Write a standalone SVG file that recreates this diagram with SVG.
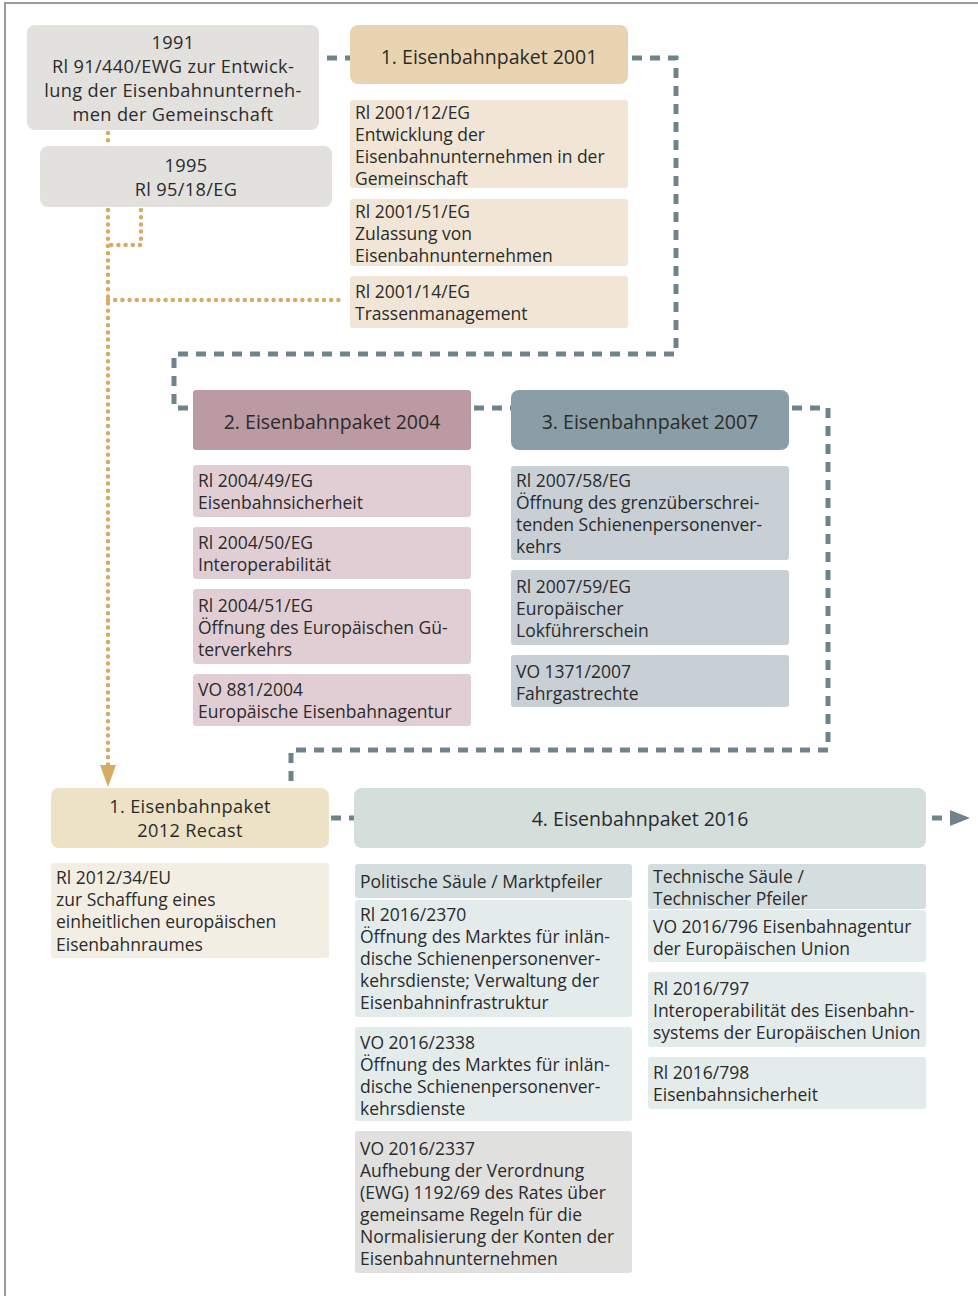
<svg xmlns="http://www.w3.org/2000/svg" width="978" height="1296" viewBox="0 0 978 1296">
<defs>
<style>
  text { font-family: "Open Sans", "Noto Sans", "DejaVu Sans", sans-serif; fill: #2b2b2b; dominant-baseline: central; }
  .t { font-size: 17.5px; }
  .h { font-size: 19.5px; text-anchor: middle; }
  .hm { font-size: 18.2px; letter-spacing: 0.35px; text-anchor: middle; }
  .dash { fill: none; stroke: #6f838b; stroke-width: 5; stroke-dasharray: 10 8; }
  .dot { fill: none; stroke: #d6ab66; stroke-width: 4.5; stroke-dasharray: 0 7.2; stroke-linecap: round; }
  .grey { fill: #e2e1de; }
  .p1h { fill: #e9d4b2; }
  .p1 { fill: #f1e6d5; }
  .p2h { fill: #bb9aa3; }
  .p2 { fill: #e1ced4; }
  .p3h { fill: #8a9ea7; }
  .p3 { fill: #c8cfd5; }
  .rch { fill: #ede2c6; }
  .rc { fill: #f3eee4; }
  .p4h { fill: #d4dedb; }
  .p4s { fill: #d5dedf; }
  .p4 { fill: #e4ebeb; }
  .p4g { fill: #e0e0df; }
</style>
</defs>

<!-- frame -->
<path d="M5,1296 V3 H978" fill="none" stroke="#9a9a9a" stroke-width="2"/>

<!-- connectors -->
<g id="connectors">
  <path class="dash" d="M327,58 H350"/>
  <path class="dash" d="M632,58 H676 V354 H174 V408 H193"/>
  <path class="dash" d="M474,408 H511"/>
  <path class="dash" d="M792,408 H828 V750 H291 V788"/>
  <path class="dash" d="M331,818 H354"/>
  <path class="dash" d="M932,818 H948"/>
  <polygon points="950,810 970,818 950,826" fill="#6f838b"/>
  <path class="dot" d="M108,133 V146"/>
  <path class="dot" d="M108,210 V766"/>
  <path class="dot" d="M141,210 V245 H108"/>
  <path class="dot" d="M108,300 H345"/>
  <polygon points="100,765 116,765 108,787" fill="#d6ab66"/>
</g>

<!-- 1991 -->
<g id="n1991">
  <rect class="grey" x="27" y="25" width="292" height="105" rx="8"/>
  <text class="hm" x="173" y="42">1991</text>
  <text class="hm" x="173" y="66">Rl 91/440/EWG zur Entwick-</text>
  <text class="hm" x="173" y="90">lung der Eisenbahnunterneh-</text>
  <text class="hm" x="173" y="114">men der Gemeinschaft</text>
</g>

<!-- 1995 -->
<g id="n1995">
  <rect class="grey" x="40" y="146" width="292" height="61" rx="8"/>
  <text class="hm" x="186" y="165">1995</text>
  <text class="hm" x="186" y="189">Rl 95/18/EG</text>
</g>

<!-- 1. Eisenbahnpaket 2001 -->
<g id="paket2001">
  <rect class="p1h" x="350" y="25" width="278" height="59" rx="8"/>
  <text class="h" x="489" y="56">1. Eisenbahnpaket 2001</text>
</g>
<g id="rl2001-12">
  <rect class="p1" x="350" y="100" width="278" height="88" rx="3"/>
  <text class="t" x="355" y="112">Rl 2001/12/EG</text>
  <text class="t" x="355" y="134">Entwicklung der</text>
  <text class="t" x="355" y="156">Eisenbahnunternehmen in der</text>
  <text class="t" x="355" y="178">Gemeinschaft</text>
</g>
<g id="rl2001-51">
  <rect class="p1" x="350" y="199" width="278" height="67" rx="3"/>
  <text class="t" x="355" y="211">Rl 2001/51/EG</text>
  <text class="t" x="355" y="233">Zulassung von</text>
  <text class="t" x="355" y="255">Eisenbahnunternehmen</text>
</g>
<g id="rl2001-14">
  <rect class="p1" x="350" y="276" width="278" height="52" rx="3"/>
  <text class="t" x="355" y="291">Rl 2001/14/EG</text>
  <text class="t" x="355" y="313">Trassenmanagement</text>
</g>

<!-- 2. Eisenbahnpaket 2004 -->
<g id="paket2004">
  <rect class="p2h" x="193" y="390" width="278" height="60" rx="3"/>
  <text class="h" x="332" y="421">2. Eisenbahnpaket 2004</text>
</g>
<g id="rl2004-49">
  <rect class="p2" x="193" y="465" width="278" height="52" rx="3"/>
  <text class="t" x="198" y="480">Rl 2004/49/EG</text>
  <text class="t" x="198" y="502">Eisenbahnsicherheit</text>
</g>
<g id="rl2004-50">
  <rect class="p2" x="193" y="527" width="278" height="52" rx="3"/>
  <text class="t" x="198" y="542">Rl 2004/50/EG</text>
  <text class="t" x="198" y="564">Interoperabilität</text>
</g>
<g id="rl2004-51">
  <rect class="p2" x="193" y="589" width="278" height="75" rx="3"/>
  <text class="t" x="198" y="605">Rl 2004/51/EG</text>
  <text class="t" x="198" y="627">Öffnung des Europäischen Gü-</text>
  <text class="t" x="198" y="649">terverkehrs</text>
</g>
<g id="vo881-2004">
  <rect class="p2" x="193" y="674" width="278" height="52" rx="3"/>
  <text class="t" x="198" y="689">VO 881/2004</text>
  <text class="t" x="198" y="711">Europäische Eisenbahnagentur</text>
</g>

<!-- 3. Eisenbahnpaket 2007 -->
<g id="paket2007">
  <rect class="p3h" x="511" y="390" width="278" height="60" rx="8"/>
  <text class="h" x="650" y="421">3. Eisenbahnpaket 2007</text>
</g>
<g id="rl2007-58">
  <rect class="p3" x="511" y="466" width="278" height="94" rx="3"/>
  <text class="t" x="516" y="480">Rl 2007/58/EG</text>
  <text class="t" x="516" y="502">Öffnung des grenzüberschrei-</text>
  <text class="t" x="516" y="524">tenden Schienenpersonenver-</text>
  <text class="t" x="516" y="546">kehrs</text>
</g>
<g id="rl2007-59">
  <rect class="p3" x="511" y="570" width="278" height="75" rx="3"/>
  <text class="t" x="516" y="586">Rl 2007/59/EG</text>
  <text class="t" x="516" y="608">Europäischer</text>
  <text class="t" x="516" y="630">Lokführerschein</text>
</g>
<g id="vo1371-2007">
  <rect class="p3" x="511" y="655" width="278" height="52" rx="3"/>
  <text class="t" x="516" y="671">VO 1371/2007</text>
  <text class="t" x="516" y="693">Fahrgastrechte</text>
</g>

<!-- 1. Eisenbahnpaket 2012 Recast -->
<g id="recast2012">
  <rect class="rch" x="51" y="788" width="278" height="60" rx="8"/>
  <text class="hm" x="190" y="806">1. Eisenbahnpaket</text>
  <text class="hm" x="190" y="830">2012 Recast</text>
</g>
<g id="rl2012-34">
  <rect class="rc" x="51" y="863" width="278" height="95" rx="3"/>
  <text class="t" x="56" y="877">Rl 2012/34/EU</text>
  <text class="t" x="56" y="899">zur Schaffung eines</text>
  <text class="t" x="56" y="921">einheitlichen europäischen</text>
  <text class="t" x="56" y="944">Eisenbahnraumes</text>
</g>

<!-- 4. Eisenbahnpaket 2016 -->
<g id="paket2016">
  <rect class="p4h" x="354" y="788" width="572" height="60" rx="8"/>
  <text class="h" x="640" y="818">4. Eisenbahnpaket 2016</text>
</g>
<g id="markt">
  <rect class="p4s" x="355" y="864" width="277" height="34" rx="3"/>
  <text class="t" x="360" y="881">Politische Säule / Marktpfeiler</text>
</g>
<g id="rl2016-2370">
  <rect class="p4" x="355" y="900" width="277" height="117" rx="3"/>
  <text class="t" x="360" y="914">Rl 2016/2370</text>
  <text class="t" x="360" y="936">Öffnung des Marktes für inlän-</text>
  <text class="t" x="360" y="958">dische Schienenpersonenver-</text>
  <text class="t" x="360" y="980">kehrsdienste; Verwaltung der</text>
  <text class="t" x="360" y="1002">Eisenbahninfrastruktur</text>
</g>
<g id="vo2016-2338">
  <rect class="p4" x="355" y="1027" width="277" height="94" rx="3"/>
  <text class="t" x="360" y="1042">VO 2016/2338</text>
  <text class="t" x="360" y="1064">Öffnung des Marktes für inlän-</text>
  <text class="t" x="360" y="1086">dische Schienenpersonenver-</text>
  <text class="t" x="360" y="1108">kehrsdienste</text>
</g>
<g id="vo2016-2337">
  <rect class="p4g" x="355" y="1131" width="277" height="142" rx="3"/>
  <text class="t" x="360" y="1148">VO 2016/2337</text>
  <text class="t" x="360" y="1170">Aufhebung der Verordnung</text>
  <text class="t" x="360" y="1192">(EWG) 1192/69 des Rates über</text>
  <text class="t" x="360" y="1214">gemeinsame Regeln für die</text>
  <text class="t" x="360" y="1236">Normalisierung der Konten der</text>
  <text class="t" x="360" y="1258">Eisenbahnunternehmen</text>
</g>
<g id="technik">
  <rect class="p4s" x="648" y="864" width="278" height="45" rx="3"/>
  <text class="t" x="653" y="876">Technische Säule /</text>
  <text class="t" x="653" y="898">Technischer Pfeiler</text>
</g>
<g id="vo2016-796">
  <rect class="p4" x="648" y="910" width="278" height="52" rx="3"/>
  <text class="t" x="653" y="926">VO 2016/796 Eisenbahnagentur</text>
  <text class="t" x="653" y="948">der Europäischen Union</text>
</g>
<g id="rl2016-797">
  <rect class="p4" x="648" y="972" width="278" height="75" rx="3"/>
  <text class="t" x="653" y="988">Rl 2016/797</text>
  <text class="t" x="653" y="1010">Interoperabilität des Eisenbahn-</text>
  <text class="t" x="653" y="1032">systems der Europäischen Union</text>
</g>
<g id="rl2016-798">
  <rect class="p4" x="648" y="1057" width="278" height="52" rx="3"/>
  <text class="t" x="653" y="1072">Rl 2016/798</text>
  <text class="t" x="653" y="1094">Eisenbahnsicherheit</text>
</g>
</svg>
